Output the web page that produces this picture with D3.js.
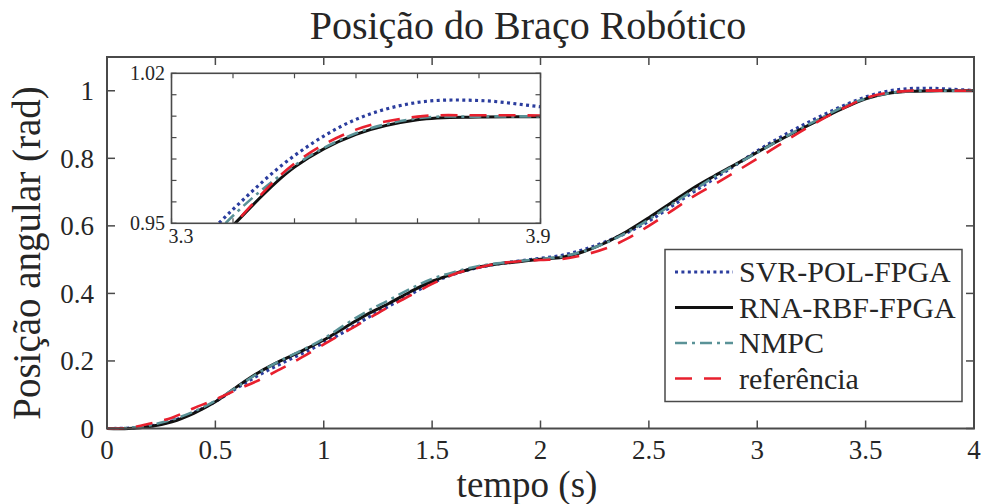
<!DOCTYPE html>
<html>
<head>
<meta charset="utf-8">
<script src="https://cdn.jsdelivr.net/npm/d3@7"></script>
<style>
  body { margin: 0; background: #fff; }
  svg text { font-family: "Liberation Serif", "Times New Roman", serif; fill: #262626; }
</style>
</head>
<body>
<svg id="chart" width="983" height="504"></svg>
<script>
// tempo (s), amostras a cada 0.1 s
const tempo = d3.range(0, 41).map(i => +(i * 0.1).toFixed(1));

const svrPol = [0, 0.001, 0.007, 0.022, 0.047, 0.080, 0.120, 0.158, 0.191, 0.222,
  0.254, 0.288, 0.327, 0.362, 0.397, 0.431, 0.457, 0.475, 0.487, 0.496,
  0.504, 0.513, 0.530, 0.553, 0.580, 0.614, 0.656, 0.698, 0.739, 0.780,
  0.822, 0.860, 0.895, 0.927, 0.9565, 0.9816, 0.9985, 1.0064, 1.0073, 1.0044, 1.001];

const rnaRbf = [0, 0.000, 0.006, 0.020, 0.045, 0.079, 0.124, 0.166, 0.200, 0.230,
  0.262, 0.300, 0.338, 0.370, 0.405, 0.436, 0.458, 0.476, 0.487, 0.494,
  0.501, 0.507, 0.524, 0.550, 0.584, 0.624, 0.667, 0.710, 0.747, 0.782,
  0.818, 0.853, 0.886, 0.918, 0.949, 0.9762, 0.9915, 0.9983, 0.9996, 0.9997, 0.9997];

const nmpc = [0, 0.002, 0.010, 0.026, 0.050, 0.082, 0.123, 0.165, 0.201, 0.232,
  0.266, 0.308, 0.347, 0.380, 0.414, 0.443, 0.463, 0.479, 0.489, 0.496,
  0.502, 0.509, 0.525, 0.549, 0.581, 0.619, 0.661, 0.703, 0.744, 0.781,
  0.817, 0.853, 0.888, 0.921, 0.9535, 0.977, 0.992, 0.999, 0.9998, 0.9999, 0.9999];

const referencia = [0, 0.002, 0.015, 0.032, 0.060, 0.086, 0.115, 0.143, 0.176, 0.211,
  0.249, 0.286, 0.323, 0.360, 0.394, 0.428, 0.457, 0.474, 0.488, 0.495,
  0.499, 0.502, 0.514, 0.533, 0.562, 0.600, 0.642, 0.685, 0.722, 0.760,
  0.799, 0.839, 0.879, 0.916, 0.949, 0.9779, 0.9937, 0.9998, 1.0004, 1.0003, 1.0];

const xTicks = [0, 0.5, 1, 1.5, 2, 2.5, 3, 3.5, 4];
const yTicks = [0, 0.2, 0.4, 0.6, 0.8, 1];
const insetXTicks = [3.3, 3.4, 3.5, 3.6, 3.7, 3.8, 3.9];
const insetYTicks = [0.95, 0.96, 0.97, 0.98, 0.99, 1.0, 1.01, 1.02];

const series = [
  { name: "SVR-POL-FPGA", values: svrPol, color: "#2b3d9e", width: 3.2, dash: "3,3.4" },
  { name: "RNA-RBF-FPGA", values: rnaRbf, color: "#111111", width: 3, dash: null },
  { name: "NMPC", values: nmpc, color: "#5a9297", width: 2.6, dash: "12,5,3,5" },
  { name: "referência", values: referencia, color: "#e8202e", width: 2.6, dash: "17,12" }
];

const svg = d3.select("#chart");
const axisColor = "#4a4a4a";

// eixo principal
const mLeft = 107, mRight = 974, mTop = 57, mBottom = 428.5;
const x = d3.scaleLinear().domain([0, 4]).range([mLeft, mRight]);
const y = d3.scaleLinear().domain([0, 1.1]).range([mBottom, mTop]);

svg.append("text")
  .attr("x", 528).attr("y", 39)
  .attr("text-anchor", "middle")
  .style("font-size", "40px")
  .text("Posição do Braço Robótico");

const lineMain = vals => d3.line()
  .x((d, i) => x(tempo[i]))
  .y(d => y(d))
  .curve(d3.curveCatmullRom.alpha(0.5))(vals);

const defs = svg.append("defs");
defs.append("clipPath").attr("id", "clipMain")
  .append("rect").attr("x", mLeft).attr("y", mTop)
  .attr("width", mRight - mLeft).attr("height", mBottom - mTop + 3);

const gMain = svg.append("g").attr("clip-path", "url(#clipMain)");
series.forEach(s => {
  gMain.append("path")
    .attr("d", lineMain(s.values))
    .attr("fill", "none")
    .attr("stroke", s.color)
    .attr("stroke-width", s.width)
    .attr("stroke-dasharray", s.dash);
});

// caixa e ticks
const frame = svg.append("g");
frame.append("rect")
  .attr("x", mLeft).attr("y", mTop)
  .attr("width", mRight - mLeft).attr("height", mBottom - mTop)
  .attr("fill", "none").attr("stroke", axisColor).attr("stroke-width", 2);

const tl = 8;
xTicks.forEach(t => {
  frame.append("line").attr("x1", x(t)).attr("x2", x(t)).attr("y1", mBottom).attr("y2", mBottom - tl)
    .attr("stroke", axisColor).attr("stroke-width", 1.5);
  frame.append("line").attr("x1", x(t)).attr("x2", x(t)).attr("y1", mTop).attr("y2", mTop + tl)
    .attr("stroke", axisColor).attr("stroke-width", 1.5);
  frame.append("text").attr("x", x(t)).attr("y", 459)
    .attr("text-anchor", "middle").style("font-size", "27px")
    .text(t);
});
yTicks.forEach(t => {
  frame.append("line").attr("x1", mLeft).attr("x2", mLeft + tl).attr("y1", y(t)).attr("y2", y(t))
    .attr("stroke", axisColor).attr("stroke-width", 1.5);
  frame.append("line").attr("x1", mRight).attr("x2", mRight - tl).attr("y1", y(t)).attr("y2", y(t))
    .attr("stroke", axisColor).attr("stroke-width", 1.5);
  frame.append("text").attr("x", 94).attr("y", y(t)).attr("dy", "0.35em")
    .attr("text-anchor", "end").style("font-size", "27px")
    .text(t);
});

svg.append("text")
  .attr("x", 527).attr("y", 497)
  .attr("text-anchor", "middle").style("font-size", "37px")
  .text("tempo (s)");

svg.append("text")
  .attr("transform", "translate(40,253) rotate(-90)")
  .attr("text-anchor", "middle").style("font-size", "39px")
  .text("Posição angular (rad)");

// detalhe (inset)
const iLeft = 171.5, iRight = 540.5, iTop = 73.3, iBottom = 223.3;
const xi = d3.scaleLinear().domain([3.3, 3.9]).range([iLeft, iRight]);
const yi = d3.scaleLinear().domain([0.95, 1.02]).range([iBottom, iTop]);

svg.append("rect")
  .attr("x", iLeft).attr("y", iTop)
  .attr("width", iRight - iLeft).attr("height", iBottom - iTop)
  .attr("fill", "#fff");

defs.append("clipPath").attr("id", "clipInset")
  .append("rect").attr("x", iLeft).attr("y", iTop)
  .attr("width", iRight - iLeft).attr("height", iBottom - iTop);

const lineInset = vals => d3.line()
  .x((d, i) => xi(tempo[i]))
  .y(d => yi(d))
  .curve(d3.curveCatmullRom.alpha(0.5))(vals);

const gInset = svg.append("g").attr("clip-path", "url(#clipInset)");
series.forEach(s => {
  gInset.append("path")
    .attr("d", lineInset(s.values))
    .attr("fill", "none")
    .attr("stroke", s.color)
    .attr("stroke-width", s.width)
    .attr("stroke-dasharray", s.dash);
});

const iframe = svg.append("g");
iframe.append("rect")
  .attr("x", iLeft).attr("y", iTop)
  .attr("width", iRight - iLeft).attr("height", iBottom - iTop)
  .attr("fill", "none").attr("stroke", axisColor).attr("stroke-width", 1.6);

const itl = 5;
insetXTicks.forEach(t => {
  iframe.append("line").attr("x1", xi(t)).attr("x2", xi(t)).attr("y1", iBottom).attr("y2", iBottom - itl)
    .attr("stroke", axisColor).attr("stroke-width", 1.2);
  iframe.append("line").attr("x1", xi(t)).attr("x2", xi(t)).attr("y1", iTop).attr("y2", iTop + itl)
    .attr("stroke", axisColor).attr("stroke-width", 1.2);
});
insetYTicks.forEach(t => {
  iframe.append("line").attr("x1", iLeft).attr("x2", iLeft + itl).attr("y1", yi(t)).attr("y2", yi(t))
    .attr("stroke", axisColor).attr("stroke-width", 1.2);
  iframe.append("line").attr("x1", iRight).attr("x2", iRight - itl).attr("y1", yi(t)).attr("y2", yi(t))
    .attr("stroke", axisColor).attr("stroke-width", 1.2);
});
iframe.append("text").attr("x", xi(3.3) - 3).attr("y", 243)
  .attr("text-anchor", "start").style("font-size", "20px").text("3.3");
iframe.append("text").attr("x", xi(3.9) + 10).attr("y", 243)
  .attr("text-anchor", "end").style("font-size", "20px").text("3.9");
[0.95, 1.02].forEach(t => {
  iframe.append("text").attr("x", 165).attr("y", yi(t)).attr("dy", "0.35em")
    .attr("text-anchor", "end").style("font-size", "20px").text(t.toFixed(2));
});

// legenda
const leg = svg.append("g");
leg.append("rect")
  .attr("x", 665).attr("y", 249.5).attr("width", 297).attr("height", 152)
  .attr("fill", "#fff").attr("stroke", axisColor).attr("stroke-width", 1.5);
series.forEach((s, i) => {
  const cy = 272 + i * 35.5;
  leg.append("line")
    .attr("x1", 675).attr("x2", 733).attr("y1", cy).attr("y2", cy)
    .attr("stroke", s.color).attr("stroke-width", s.width)
    .attr("stroke-dasharray", s.dash);
  leg.append("text")
    .attr("x", 739).attr("y", cy + 10)
    .style("font-size", "30px")
    .text(s.name);
});
</script>
</body>
</html>
